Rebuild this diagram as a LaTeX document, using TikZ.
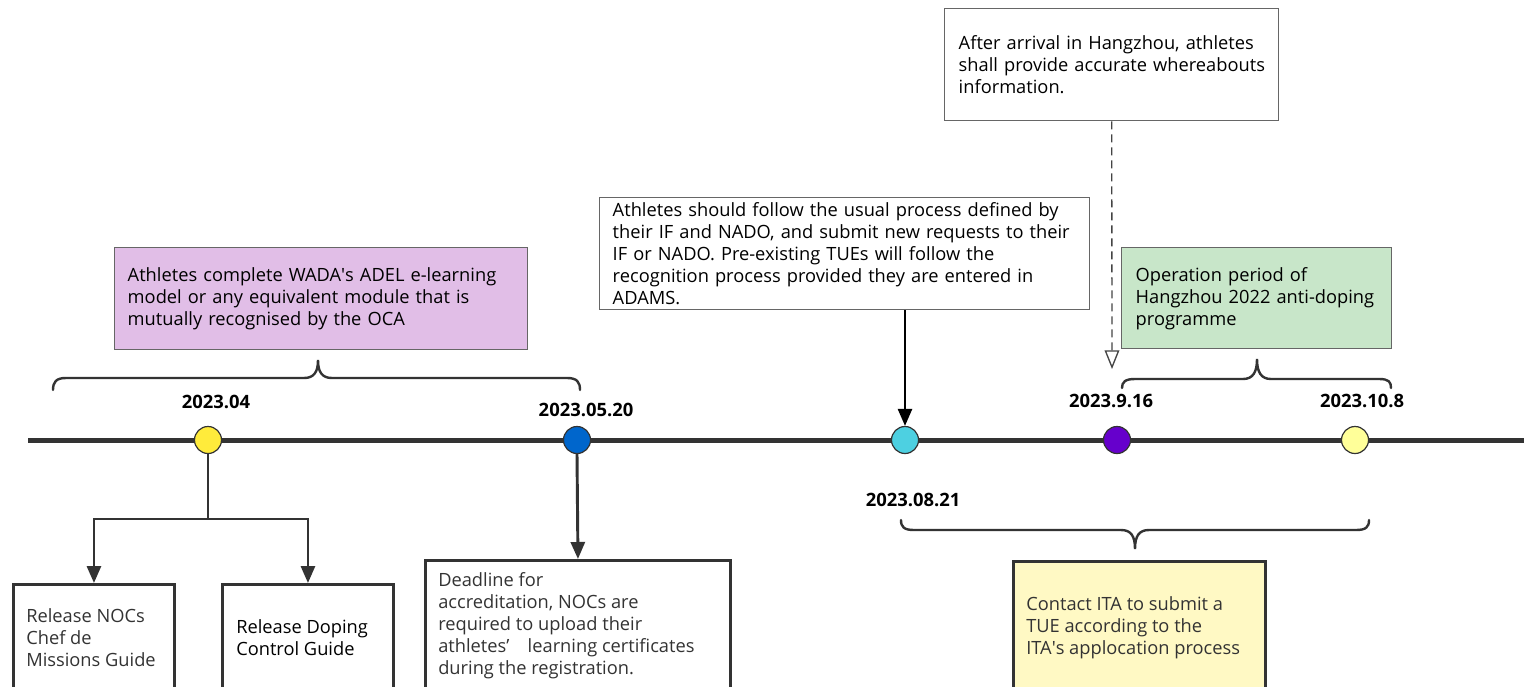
\documentclass[tikz,border=0pt]{standalone}
\usepackage{fontspec}
\setmainfont{Open Sans}
\usetikzlibrary{arrows.meta}
\newdimen\px \px=0.75pt
\definecolor{linedark}{HTML}{333333}
\definecolor{boxgray}{HTML}{666666}
\definecolor{dashgray}{HTML}{444444}
\definecolor{cyel}{HTML}{FFEB3B}
\definecolor{cblue}{HTML}{0066CC}
\definecolor{ccyan}{HTML}{4DD0E1}
\definecolor{cpurp}{HTML}{6600CC}
\definecolor{clyel}{HTML}{FFFF99}
\definecolor{fpurp}{HTML}{E1BEE7}
\definecolor{fgreen}{HTML}{C8E6C9}
\definecolor{fyel}{HTML}{FFF9C4}
\definecolor{txtgray}{HTML}{333333}
\newcommand{\sq}{\textquotesingle}
\tikzset{
  bodyfont/.style={font=\fontsize{13.7}{16.5}\selectfont},
  datefont/.style={font=\fontsize{13.8}{15}\selectfont\bfseries},
  topbox/.style={draw=boxgray, line width=1.1pt, bodyfont, align=left, anchor=north west, inner ysep=0pt},
  lowbox/.style={draw=linedark, line width=2.2pt, anchor=north west, inner sep=0pt},
  lowtext/.style={bodyfont, text=txtgray, align=left, anchor=base west, inner sep=0pt},
  dot/.style={circle, draw=linedark, line width=0.9pt, minimum size=27\px, inner sep=0pt},
  datelbl/.style={datefont, text=black, inner sep=0pt},
  conn/.style={draw=linedark, line width=2.2pt, -{Triangle[width=10.5pt,length=12.75pt]}},
  bracestyle/.style={draw=linedark, line width=1.8pt, line cap=round},
}
\begin{document}
\begin{tikzpicture}[x=0.75pt,y=-0.75pt]
\useasboundingbox[fill=white] (0,0) rectangle (1524,686);
\clip (0,0) rectangle (1524,686);

% timeline
\coordinate (tl0) at (28,440);
\coordinate (tl1) at (1530,440);
\draw[linedark, line width=3.75pt] (tl0) -- (tl1);

% dots
\node[dot, fill=cyel] (c1) at (208,440) {};
\node[dot, fill=cblue] (c2) at (577,440) {};
\node[dot, fill=ccyan] (c3) at (905,440) {};
\node[dot, fill=cpurp] (c4) at (1117,440) {};
\node[dot, fill=clyel] (c5) at (1355,440) {};

% dates
\node[datelbl] (d1) at (216,402) {2023.04};
\node[datelbl] (d2) at (586,410) {2023.05.20};
\node[datelbl] (d3) at (913,500) {2023.08.21};
\node[datelbl] (d4) at (1111,401) {2023.9.16};
\node[datelbl] (d5) at (1362,401) {2023.10.8};

% upper boxes
\node[topbox, fill=fpurp, text width=387\px, inner xsep=13\px, minimum height=102\px] (pbox) at (114,247)
  {Athletes complete WADA\sq s ADEL e-learning\\model or any equivalent module that is\\mutually recognised by the OCA};
\node[topbox, fill=white, text width=464\px, inner xsep=13\px, minimum height=112\px] (cbox) at (599,197)
  {Athletes should follow the usual process defined by\\their IF and NADO, and submit new requests to their\\IF or NADO. Pre-existing TUEs will follow the\\recognition process provided they are entered in\\ADAMS.};
\node[topbox, fill=white, text width=306\px, inner xsep=14\px, minimum height=112\px] (tbox) at (944,8)
  {After arrival in Hangzhou, athletes\\\mbox{shall provide accurate whereabouts}\\information.};
\node[topbox, fill=fgreen, text width=242\px, inner xsep=14\px, minimum height=101\px] (gbox) at (1121,247)
  {Operation period of\\Hangzhou 2022 anti-doping\\programme};

% lower boxes
\node[lowbox, fill=white, minimum width=161\px, minimum height=130\px] (b1) at (12,583) {};
\node[lowbox, fill=white, minimum width=171\px, minimum height=130\px] (b2) at (221,583) {};
\node[lowbox, fill=white, minimum width=305\px, minimum height=150\px] (b3) at (424,559) {};
\node[lowbox, fill=fyel, minimum width=252\px, minimum height=150\px] (b4) at (1012,560) {};

% (base anchor = baseline of the last line)
\node[lowtext] (t1) at (26,666) {Release NOCs\\Chef de\\Missions Guide};
\node[lowtext, text=black] (t2) at (236,655) {Release Doping\\Control Guide};
\node[lowtext] (t3) at (438,674) {Deadline for\\accreditation, NOCs are\\required to upload their\\athletes’\quad learning certificates\\during the registration.};
\node[lowtext] (t4) at (1026,654) {Contact ITA to submit a\\TUE according to the\\ITA\sq s applocation process};

% connectors
\coordinate (j1) at (208,519);
\draw[linedark, line width=2.2pt] (c1.south) -- (j1);
\draw[conn] (j1) -| (b1.north);
\draw[conn] (j1) -| (b2.north);
\draw[conn] (c2.south) -- (b3.north);
\draw[black, line width=1.9pt, -{Triangle[width=10.5pt,length=12.75pt]}] (cbox.south -| c3) -- (c3.north);
\coordinate (dashend) at (1112,369);
\draw[dashgray, line width=1pt, dash pattern=on 8\px off 5\px, -{Triangle[open, width=11pt, length=14pt, fill=white]}] (tbox.south) -- (dashend);

% braces
\draw[bracestyle] (53,390) .. controls (53,382) and (56,378) .. (66,378) -- (304,378)
  .. controls (314,378) and (318,372) .. (318,360)
  .. controls (318,372) and (322,378) .. (332,378) -- (567,378)
  .. controls (577,378) and (580,382) .. (580,390);
\draw[bracestyle] (1122,388) .. controls (1122,382) and (1125,379) .. (1135,379) -- (1243,379)
  .. controls (1253,379) and (1257,372) .. (1257,359)
  .. controls (1257,372) and (1261,379) .. (1271,379) -- (1379,379)
  .. controls (1389,379) and (1391,382) .. (1391,388);
\draw[bracestyle] (901,520) .. controls (901,527) and (904,530) .. (914,530) -- (1121,530)
  .. controls (1131,530) and (1135,536) .. (1135,549)
  .. controls (1135,536) and (1139,530) .. (1149,530) -- (1356,530)
  .. controls (1366,530) and (1369,527) .. (1369,520);
\end{tikzpicture}
\end{document}
